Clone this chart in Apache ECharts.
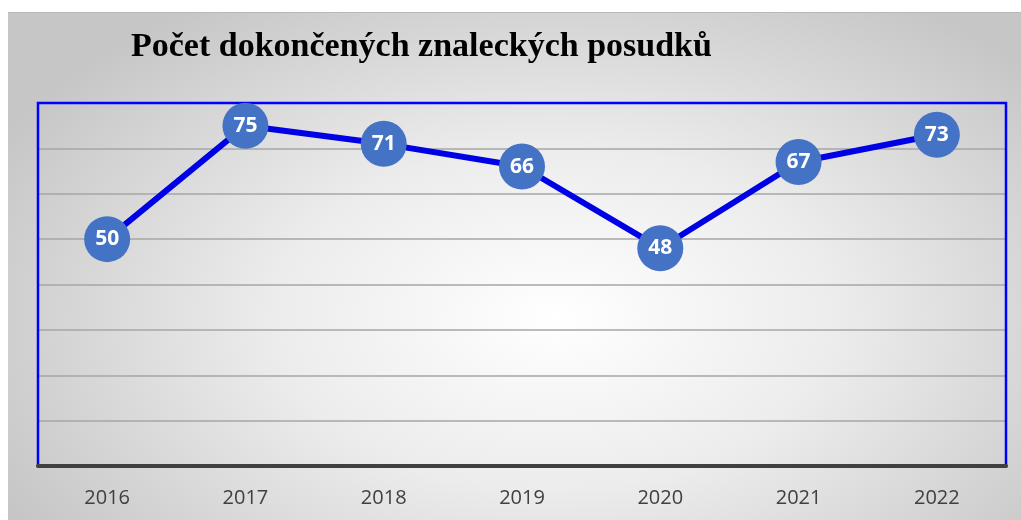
<!DOCTYPE html>
<html>
<head>
<meta charset="utf-8">
<script src="https://cdn.jsdelivr.net/npm/echarts@6/dist/echarts.min.js"></script>
<style>
    html, body { margin: 0; padding: 0; background: #fff; }
    #bg {
        position: absolute; left: 8px; top: 12px; width: 1013px; height: 508px;
        border-top: 1px solid #b8b8b8;
        background: radial-gradient(ellipse 62% 75% at 54% 60%, #ffffff 0%, #ececec 45%, #c6c6c6 100%);
    }
    #chart { position: absolute; left: 0; top: 0; width: 1021px; height: 520px; }
</style>
</head>
<body>
<div id="bg"></div>
<div id="chart"></div>
<script>
var years = ['2016', '2017', '2018', '2019', '2020', '2021', '2022'];
var counts = [50, 75, 71, 66, 48, 67, 73];

var chart = echarts.init(document.getElementById('chart'));
chart.setOption({
    backgroundColor: 'transparent',
    animation: false,
    title: {
        text: 'Počet dokončených znaleckých posudků',
        left: 126,
        top: 25,
        textStyle: {
            fontFamily: 'Liberation Serif',
            fontWeight: 'bold',
            fontSize: 34,
            color: '#000'
        }
    },
    grid: {
        show: true,
        left: 38,
        right: 15,
        top: 103,
        bottom: 54,
        borderColor: '#0000ff',
        borderWidth: 2.5,
        z: 3,
        containLabel: false
    },
    xAxis: {
        type: 'category',
        data: years,
        boundaryGap: true,
        z: 4,
        axisTick: { show: false },
        axisLine: {
            lineStyle: { color: '#404040', width: 4 }
        },
        axisLabel: {
            margin: 22,
            fontFamily: 'Open Sans',
            fontSize: 20,
            color: '#404040'
        }
    },
    yAxis: {
        type: 'value',
        min: 0,
        max: 80,
        interval: 10,
        axisLabel: { show: false },
        axisLine: { show: false },
        axisTick: { show: false },
        splitLine: {
            lineStyle: { color: '#a6a6a6', width: 1.5 }
        }
    },
    series: [{
        type: 'line',
        data: counts,
        symbol: 'circle',
        symbolSize: 46,
        z: 5,
        lineStyle: { color: '#0000e6', width: 6 },
        itemStyle: { color: '#4472c4' },
        label: {
            show: true,
            position: 'inside',
            color: '#fff',
            fontFamily: 'Open Sans',
            fontWeight: 'bold',
            fontSize: 21
        }
    }]
});
</script>
</body>
</html>
